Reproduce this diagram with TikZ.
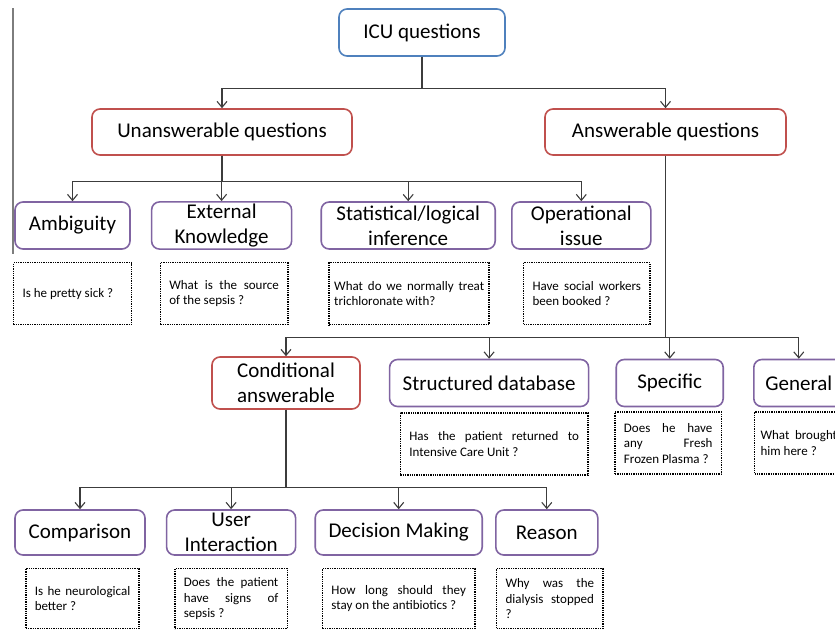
\documentclass[tikz,border=0pt]{standalone}
\usepackage{fontspec}
\setmainfont{Carlito}
\usepackage{tikz}
\usetikzlibrary{arrows.meta, positioning}
\definecolor{boxblue}{RGB}{79,129,189}
\definecolor{boxred}{RGB}{192,80,77}
\definecolor{boxpurple}{RGB}{128,100,162}
\definecolor{linedark}{RGB}{60,60,60}
\definecolor{edgegray}{RGB}{125,125,125}
\tolerance=10000
\hbadness=10000
\hyphenpenalty=10000
\tikzset{
  catbox/.style={rectangle, fill=white, align=center, rounded corners=8pt,
    line width=1.6pt, minimum height=47pt, inner sep=2pt,
    font=\fontsize{21}{25}\selectfont},
  bluebox/.style={catbox, draw=boxblue},
  redbox/.style={catbox, draw=boxred},
  typebox/.style={catbox, draw=boxpurple},
  note/.style={rectangle, draw=black, line width=1.6pt,
    dash pattern=on 1.3pt off 1pt, text width=#1, align=justify,
    inner xsep=9pt, minimum height=62pt,
    font=\fontsize{13}{15.5}\selectfont},
  arrow/.style={-{Straight Barb[length=6pt,width=10pt]}, line width=1.1pt, color=linedark},
  edgeline/.style={line width=1.3pt, color=edgegray}
}

\begin{document}
\begin{tikzpicture}[x=1pt, y=1pt]
  \useasboundingbox (0,0) rectangle (835,-629);

  \coordinate (edgetop) at (13,-8);
  \coordinate (edgebot) at (13,-254);
  \draw[edgeline] (edgetop) -- (edgebot);

  \node[bluebox, minimum width=166pt] (icu) at (422,-32.5) {ICU questions};
  \node[redbox, minimum width=260pt, minimum height=46pt] (unans) at (222,-132) {Unanswerable questions};
  \node[redbox, minimum width=241pt, minimum height=46pt] (ans) at (665.5,-132) {Answerable questions};

  \node[typebox, minimum width=115pt] (amb) at (72.5,-225.5) {Ambiguity};
  \node[typebox, minimum width=140pt, right=20pt of amb] (ext) {External\\Knowledge};
  \node[typebox, minimum width=174pt, right=28pt of ext] (stat) {Statistical/logical\\inference};
  \node[typebox, minimum width=139pt, right=15pt of stat] (oper) {Operational\\issue};

  \node[note=100pt, below=12pt of amb] (ambq) {Is he pretty sick ?};
  \node[note=109.5pt, below=12pt of ext, xshift=2.5pt] (extq) {What is the source\linebreak of the sepsis ?};
  \node[note=150pt, inner xsep=5pt, below=12pt of stat, xshift=1pt] (statq) {What do we normally treat\linebreak trichloronate with?};
  \node[note=108.5pt, below=12pt of oper, xshift=5.5pt] (operq) {Have social workers\linebreak been booked ?};

  \node[redbox, minimum width=148pt, minimum height=52pt] (cond) at (286,-383) {Conditional\\answerable};
  \node[typebox, minimum width=199pt, right=28pt of cond] (struct) {Structured database};
  \node[typebox, minimum width=107pt, right=26pt of struct] (spec) {Specific};
  \node[typebox, minimum width=90pt, right=29pt of spec] (gen) {General};

  \node[note=169.5pt, below=5pt of struct, xshift=5pt] (structq) {Has the patient returned to\linebreak Intensive Care Unit ?};
  \node[note=88.5pt, below=4pt of spec, xshift=-1.5pt] (specq) {Does he have\linebreak any Fresh\linebreak Frozen Plasma ?};
  \node[note=76.5pt, inner xsep=6pt, below=4pt of gen, xshift=0pt] (genq) {What brought\linebreak him here ?};

  \node[typebox, minimum width=130pt, minimum height=45pt] (comp) at (80,-532.5) {Comparison};
  \node[typebox, minimum width=129pt, minimum height=45pt, right=20pt of comp] (user) {User\\Interaction};
  \node[typebox, minimum width=167pt, minimum height=45pt, right=18pt of user] (dec) {Decision Making};
  \node[typebox, minimum width=102pt, minimum height=45pt, right=12pt of dec] (reason) {Reason};

  \node[note=95.5pt, minimum height=60pt, below=12pt of comp, xshift=2.5pt] (compq) {Is he neurological\linebreak better ?};
  \node[note=94.5pt, minimum height=60pt, below=12pt of user] (userq) {Does the patient\linebreak have signs of\linebreak sepsis ?};
  \node[note=134.5pt, minimum height=60pt, below=12pt of dec] (decq) {How long should they\linebreak stay on the antibiotics ?};
  \node[note=88.5pt, minimum height=60pt, below=12pt of reason, xshift=3pt] (reasonq) {Why was the\linebreak dialysis stopped\linebreak ?};

  \draw[arrow] (icu.south) -- ++(0,-32) -| (unans.north);
  \draw[arrow] (icu.south) -- ++(0,-32) -| (ans.north);

  \draw[arrow] (unans.south) -- ++(0,-26) -| (amb.north);
  \draw[arrow] (unans.south) -- ++(0,-26) -| (ext.north);
  \draw[arrow] (unans.south) -- ++(0,-26) -| (stat.north);
  \draw[arrow] (unans.south) -- ++(0,-26) -| (oper.north);

  \draw[arrow] (ans.south) -- ++(0,-182) -| (cond.north);
  \draw[arrow] (ans.south) -- ++(0,-182) -| (struct.north);
  \draw[arrow] (ans.south) -- ++(0,-182) -| (spec.north);
  \draw[arrow] (ans.south) -- ++(0,-182) -| (gen.north);

  \draw[arrow] (cond.south) -- ++(0,-78) -| (comp.north);
  \draw[arrow] (cond.south) -- ++(0,-78) -| (user.north);
  \draw[arrow] (cond.south) -- ++(0,-78) -| (dec.north);
  \draw[arrow] (cond.south) -- ++(0,-78) -| (reason.north);
\end{tikzpicture}
\end{document}
